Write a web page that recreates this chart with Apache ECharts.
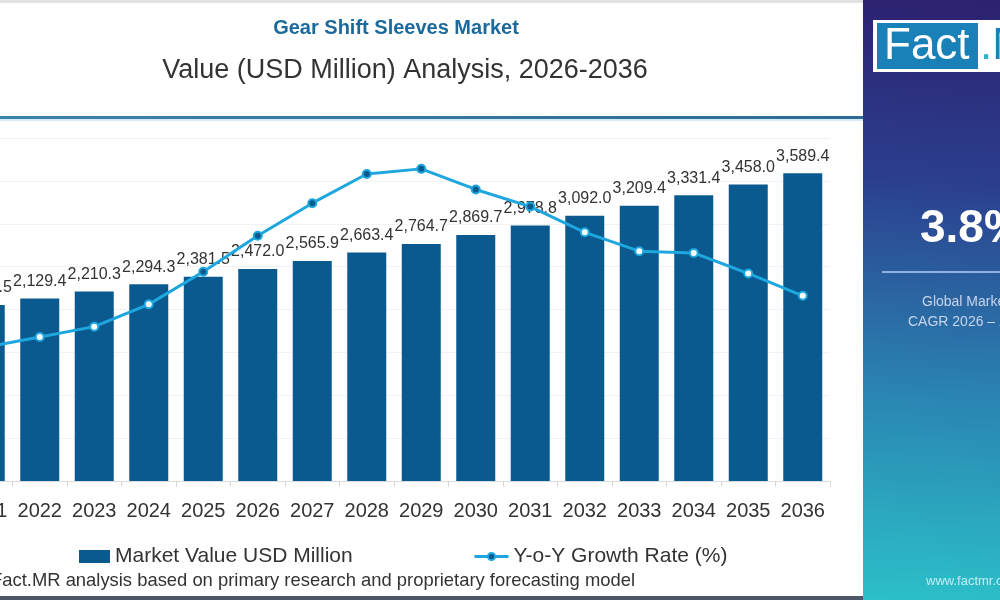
<!DOCTYPE html>
<html>
<head>
<meta charset="utf-8">
<title>Gear Shift Sleeves Market</title>
<script src="https://cdn.jsdelivr.net/npm/echarts@6/dist/echarts.min.js"></script>
<style>
  html, body { margin: 0; padding: 0; background: #fff; }
  #chart { width: 1000px; height: 600px; }
</style>
</head>
<body>
<div id="chart"></div>
<script>
// data
const years = ['2021', '2022', '2023', '2024', '2025', '2026', '2027', '2028',
  '2029', '2030', '2031', '2032', '2033', '2034', '2035', '2036'];
const marketValue = [2051.5, 2129.4, 2210.3, 2294.3, 2381.5, 2472.0, 2565.9, 2663.4,
  2764.7, 2869.7, 2978.8, 3092.0, 3209.4, 3331.4, 3458.0, 3589.4];
const growthRate = [3.778, 3.784, 3.790, 3.803, 3.822, 3.843, 3.862, 3.879,
  3.882, 3.870, 3.860, 3.845, 3.834, 3.833, 3.821, 3.808];
const valueAxisMin = 0;
const valueAxisMax = 4000;
const valueAxisStep = 500;
const cagrText = '3.8%';

const FONT = '"Liberation Sans", Arial, sans-serif';
const BAR = '#0b5a8f';
const LINE = '#1ea7df';

const chart = echarts.init(document.getElementById('chart'));

chart.setOption({
  backgroundColor: '#fff',
  animation: false,
  textStyle: { fontFamily: FONT },
  grid: {
    left: -42, right: 170, top: 138, bottom: 119,
    containLabel: false, outerBoundsMode: 'none'
  },
  legend: [
    {
      left: 74, top: 541,
      itemWidth: 31, itemHeight: 13, itemGap: 4,
      textStyle: { fontSize: 21, color: '#333', fontFamily: FONT },
      data: [{ name: 'Market Value USD Million', icon: 'rect' }]
    },
    {
      left: 468, top: 541,
      itemWidth: 34, itemHeight: 9, itemGap: 4,
      textStyle: { fontSize: 21, color: '#333', fontFamily: FONT },
      data: [{
        name: 'Y-o-Y Growth Rate (%)',
        itemStyle: { color: BAR, borderColor: LINE, borderWidth: 2 },
        lineStyle: { color: LINE, width: 3 }
      }]
    }
  ],
  xAxis: {
    type: 'category',
    data: years,
    axisLine: { lineStyle: { color: '#dcdcdc', width: 1 } },
    axisTick: { show: true, length: 6, lineStyle: { color: '#d8d8d8' } },
    axisLabel: { fontSize: 20, color: '#333', margin: 20, fontFamily: FONT, interval: 0 }
  },
  yAxis: [
    {
      type: 'value',
      min: valueAxisMin, max: valueAxisMax, interval: valueAxisStep,
      axisLabel: { show: false },
      axisLine: { show: false },
      axisTick: { show: false },
      splitLine: { lineStyle: { color: '#f2f2f2', width: 1 } }
    },
    {
      type: 'value',
      min: 3.7, max: 3.9,
      show: false,
      splitLine: { show: false }
    }
  ],
  series: [
    {
      name: 'Market Value USD Million',
      type: 'bar',
      data: marketValue,
      barWidth: 39,
      itemStyle: { color: BAR },
      label: {
        show: true,
        position: 'top',
        distance: 9,
        fontSize: 16,
        color: '#333',
        fontFamily: FONT,
        formatter: (p) => p.value.toLocaleString('en-US', { minimumFractionDigits: 1, maximumFractionDigits: 1 })
      }
    },
    {
      name: 'Y-o-Y Growth Rate (%)',
      type: 'line',
      yAxisIndex: 1,
      data: growthRate,
      symbol: 'circle',
      symbolSize: 8,
      lineStyle: { color: LINE, width: 3 },
      itemStyle: {
        color: (p) => (p.dataIndex >= 4 && p.dataIndex <= 10) ? BAR : '#ffffff',
        borderColor: LINE,
        borderWidth: 2
      },
      z: 5
    }
  ],
  graphic: [
    { type: 'rect', shape: { x: 0, y: 0, width: 1000, height: 3 }, style: { fill: '#e2e2e2' }, silent: true },
    {
      type: 'text', x: 396, y: 28,
      style: { text: 'Gear Shift Sleeves Market', fill: '#1c6a9b', font: 'bold 20px ' + FONT,
        textAlign: 'center', textVerticalAlign: 'middle' }
    },
    {
      type: 'text', x: 405, y: 71,
      style: { text: 'Value (USD Million) Analysis, 2026-2036', fill: '#333', font: '27px ' + FONT,
        textAlign: 'center', textVerticalAlign: 'middle' }
    },
    {
      type: 'rect', shape: { x: 0, y: 116, width: 863, height: 3 },
      style: {
        fill: { type: 'linear', x: 0, y: 0, x2: 1, y2: 0,
          colorStops: [{ offset: 0, color: '#3b82ac' }, { offset: 1, color: '#2c6b97' }] }
      }, silent: true
    },
    { type: 'rect', shape: { x: 0, y: 119, width: 863, height: 2 }, style: { fill: '#d6ebf6' }, silent: true },
    {
      type: 'text', x: 635, y: 581,
      style: { text: 'Source: Fact.MR analysis based on primary research and proprietary forecasting model',
        fill: '#333', font: '18.4px ' + FONT, textAlign: 'right', textVerticalAlign: 'middle' }
    },
    { type: 'rect', shape: { x: 0, y: 596, width: 863, height: 4 }, style: { fill: '#4d5566' }, silent: true },
    {
      type: 'rect', shape: { x: 863, y: 0, width: 137, height: 600 },
      style: {
        fill: { type: 'linear', x: 0.3, y: 0, x2: 0, y2: 1,
          colorStops: [
            { offset: 0, color: '#2c2270' },
            { offset: 0.3, color: '#2b3f8e' },
            { offset: 0.65, color: '#2a84b2' },
            { offset: 1, color: '#2cc0c9' }
          ] }
      }, silent: true
    },
    { type: 'rect', shape: { x: 873, y: 20, width: 140, height: 52 }, style: { fill: '#ffffff' }, silent: true },
    { type: 'rect', shape: { x: 877, y: 23, width: 101, height: 46 }, style: { fill: '#1a80b8' }, silent: true },
    {
      type: 'text', x: 884, y: 47,
      style: { text: 'Fact', fill: '#ffffff', font: '44px ' + FONT, textVerticalAlign: 'middle' }
    },
    {
      type: 'text', x: 980, y: 47,
      style: {
        text: '{d|.}{m|MR}', textVerticalAlign: 'middle',
        rich: {
          d: { fill: '#2bb5c8', font: '44px ' + FONT },
          m: { fill: '#1a80b8', font: '44px ' + FONT }
        }
      }
    },
    {
      type: 'text', x: 920, y: 229,
      style: { text: cagrText, fill: '#ffffff', font: 'bold 46px ' + FONT, textVerticalAlign: 'middle' }
    },
    { type: 'rect', shape: { x: 882, y: 271, width: 118, height: 2 }, style: { fill: '#8fb2e0' }, silent: true },
    {
      type: 'text', x: 922, y: 302,
      style: { text: 'Global Market', fill: '#c6d4ec', font: '14px ' + FONT, textVerticalAlign: 'middle' }
    },
    {
      type: 'text', x: 908, y: 322,
      style: { text: 'CAGR 2026 – 2036', fill: '#c6d4ec', font: '14px ' + FONT, textVerticalAlign: 'middle' }
    },
    {
      type: 'text', x: 926, y: 581,
      style: { text: 'www.factmr.com', fill: '#bdeef4', font: '13px ' + FONT, textVerticalAlign: 'middle' }
    }
  ]
});

window.addEventListener('resize', () => chart.resize());
</script>
</body>
</html>
